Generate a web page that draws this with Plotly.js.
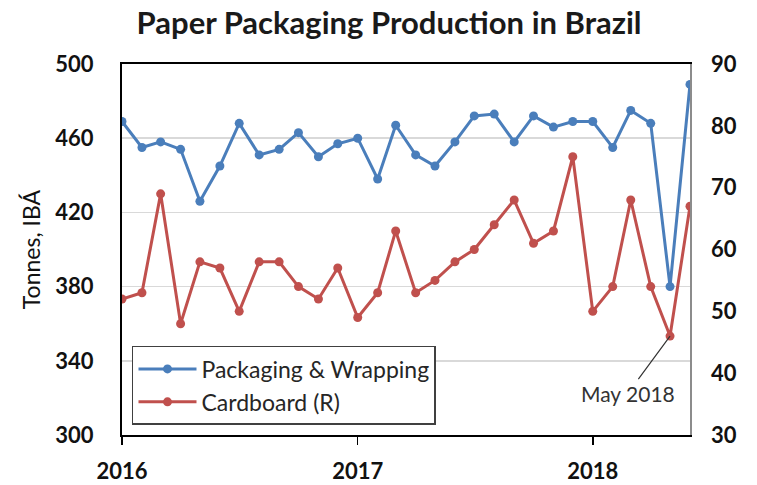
<!DOCTYPE html>
<html>
<head>
<meta charset="utf-8">
<script src="https://cdn.plot.ly/plotly-3.0.1.min.js"></script>
<style>html,body{margin:0;padding:0;background:#fff}#chart{width:757px;height:485px}</style>
</head>
<body>
<div id="chart"></div>
<script>
const months = [
  "2016-01-01","2016-02-01","2016-03-01","2016-04-01","2016-05-01","2016-06-01",
  "2016-07-01","2016-08-01","2016-09-01","2016-10-01","2016-11-01","2016-12-01",
  "2017-01-01","2017-02-01","2017-03-01","2017-04-01","2017-05-01","2017-06-01",
  "2017-07-01","2017-08-01","2017-09-01","2017-10-01","2017-11-01","2017-12-01",
  "2018-01-01","2018-02-01","2018-03-01","2018-04-01","2018-05-01","2018-06-01"
];
const packagingWrapping = [
  469, 455, 458, 454, 426, 445, 468, 451, 454, 463, 450, 457,
  460, 438, 467, 451, 445, 458, 472, 473, 458, 472, 466, 469,
  469, 455, 475, 468, 380, 489
];
const cardboard = [
  52, 53, 69, 48, 58, 57, 50, 58, 58, 54, 52, 57,
  49, 53, 63, 53, 55, 58, 60, 64, 68, 61, 63, 75,
  50, 54, 68, 54, 46, 67
];
const yearTickVals = ["2016-01-01","2017-01-01","2018-01-01"];
const yearTickText = ["2016","2017","2018"];
const annotationText = "May 2018";

const FONT = "Lato, 'Open Sans', sans-serif";
const BLUE = "#4a7ebb";
const RED = "#c0504d";

const traces = [
  {
    x: months, y: packagingWrapping, name: "Packaging & Wrapping",
    type: "scatter", mode: "lines+markers",
    line: {color: BLUE, width: 3},
    marker: {color: BLUE, size: 9},
    yaxis: "y"
  },
  {
    x: months, y: cardboard, name: "Cardboard (R)",
    type: "scatter", mode: "lines+markers",
    line: {color: RED, width: 3},
    marker: {color: RED, size: 9},
    yaxis: "y2"
  }
];

const layout = {
  width: 757, height: 485,
  margin: {l: 122, r: 67, t: 64, b: 50, pad: 0},
  paper_bgcolor: "#fff", plot_bgcolor: "#fff",
  font: {family: FONT, color: "#111"},
  title: {
    text: "<b>Paper Packaging Production in Brazil</b>",
    font: {family: FONT, size: 31, color: "#1a1a1a"},
    x: 0.514, xanchor: "center", y: 0.953, yanchor: "middle"
  },
  showlegend: true,
  legend: {
    x: 0.0176, y: 0.027, xanchor: "left", yanchor: "bottom",
    bgcolor: "#fff", bordercolor: "#404040", borderwidth: 1.5,
    font: {family: FONT, size: 23, color: "#262626"},
    itemwidth: 58,
    tracegroupgap: 0
  },
  xaxis: {
    type: "date",
    range: ["2016-01-01", "2018-06-01"],
    tickmode: "array", tickvals: yearTickVals, ticktext: yearTickText,
    ticks: "outside", ticklen: 8, tickwidth: 1.5, tickcolor: "#000",
    showline: true, linecolor: "#000", linewidth: 2, mirror: true,
    showgrid: false, zeroline: false,
    tickfont: {family: FONT, size: 22, color: "#111", weight: "bold"},
    ticklabelstandoff: 8
  },
  yaxis: {
    range: [300, 500], dtick: 40, tick0: 300,
    showline: true, linecolor: "#000", linewidth: 2,
    showgrid: true, gridcolor: "#d9d9d9", gridwidth: 1.5,
    zeroline: false, ticks: "",
    tickfont: {family: FONT, size: 22, color: "#111", weight: "bold"},
    ticklabelstandoff: 22,
    title: {text: "Tonnes, IBÁ", font: {family: FONT, size: 23, color: "#111"}, standoff: 8}
  },
  yaxis2: {
    range: [30, 90], dtick: 10, tick0: 30,
    overlaying: "y", side: "right",
    showline: true, linecolor: "#8c8c8c", linewidth: 1.5,
    showgrid: false, zeroline: false, ticks: "",
    tickfont: {family: FONT, size: 22, color: "#111", weight: "bold"},
    ticklabelstandoff: 15
  },
  annotations: [
    {
      x: months[28], y: cardboard[28], xref: "x", yref: "y2",
      text: annotationText, showarrow: true, arrowhead: 0,
      arrowwidth: 1.2, arrowcolor: "#333",
      ax: -42, ay: 57,
      font: {family: FONT, size: 21, color: "#333"}
    }
  ]
};

Plotly.newPlot("chart", traces, layout, {displayModeBar: false, staticPlot: true});
</script>
</body>
</html>
